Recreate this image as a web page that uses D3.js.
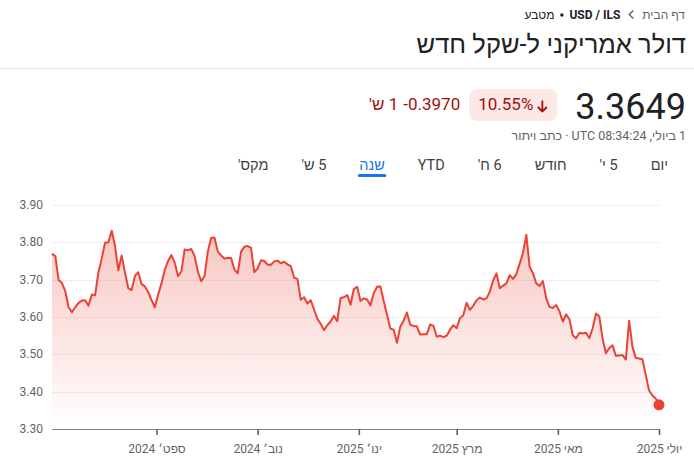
<!DOCTYPE html>
<html><head><meta charset="utf-8">
<script src="https://cdn.jsdelivr.net/npm/d3@7"></script>
<style>
html,body{margin:0;padding:0;background:#fff;}
svg{display:block;font-family:Roboto, Arial, "Liberation Sans", sans-serif;}
</style></head><body>
<svg id="chart" width="694" height="470"></svg>
<script>
// ---------------- data ----------------
const startDate = "2024-06-30";   // first sample, one sample every 2 days
const stepDays = 2;
const rates = [
3.769,3.763,3.699,3.691,3.669,3.626,3.613,3.626,3.638,3.644,
3.645,3.630,3.660,3.658,3.720,3.757,3.799,3.800,3.831,3.790,
3.725,3.765,3.719,3.677,3.672,3.710,3.720,3.688,3.682,3.667,
3.645,3.626,3.660,3.690,3.726,3.750,3.766,3.745,3.709,3.722,
3.781,3.779,3.782,3.763,3.720,3.696,3.710,3.776,3.812,3.812,
3.775,3.765,3.757,3.758,3.758,3.727,3.717,3.775,3.788,3.790,
3.785,3.720,3.730,3.752,3.750,3.740,3.740,3.749,3.751,3.744,
3.748,3.741,3.736,3.705,3.702,3.646,3.653,3.636,3.645,3.620,
3.595,3.582,3.565,3.578,3.588,3.603,3.589,3.651,3.653,3.659,
3.633,3.675,3.681,3.643,3.650,3.647,3.631,3.664,3.681,3.682,
3.643,3.606,3.569,3.566,3.531,3.574,3.590,3.612,3.579,3.576,
3.575,3.553,3.554,3.554,3.580,3.576,3.547,3.550,3.546,3.550,
3.566,3.578,3.570,3.597,3.605,3.638,3.619,3.630,3.645,3.652,
3.647,3.650,3.668,3.698,3.717,3.677,3.684,3.690,3.712,3.702,
3.715,3.743,3.772,3.820,3.735,3.717,3.690,3.683,3.696,3.650,
3.627,3.624,3.632,3.615,3.588,3.607,3.594,3.551,3.543,3.558,
3.556,3.558,3.543,3.570,3.609,3.602,3.542,3.503,3.517,3.524,
3.496,3.497,3.498,3.486,3.590,3.520,3.490,3.489,3.487,3.445,
3.403,3.390,3.382,3.3649
];
const yTicks = [3.30,3.40,3.50,3.60,3.70,3.80,3.90];
const xTickDates = ["2024-09-01","2024-11-01","2025-01-01","2025-03-01","2025-05-01","2025-07-01"];
const xTickLabels = ["ספט׳ 2024","נוב׳ 2024","ינו׳ 2025","מרץ 2025","מאי 2025","יולי 2025"];
const tabs = ["יום","5 י'","חודש","6 ח'","YTD","שנה","5 ש'","מקס'"];
const activeTab = "שנה";
const breadcrumb = ["דף הבית","USD / ILS","מטבע"];
const title = "דולר אמריקני ל-שקל חדש";
const price = "3.3649";
const changePct = "10.55%";
const changeAbs = "-0.3970";
const changePeriod = "1 ש'";
const subtitle = "1 ביולי, UTC 08:34:24 · כתב ויתור";

// ---------------- drawing ----------------
const svg = d3.select("#chart");
const parse = d3.utcParse("%Y-%m-%d");
const t0 = parse(startDate);
const series = rates.map((v,i)=>({date:d3.utcDay.offset(t0, i*stepDays), value:v}));

const plot = {left:52, right:659, top:205, bottom:429};
const x = d3.scaleUtc().domain(d3.extent(series, d=>d.date)).range([plot.left, plot.right]);
const y = d3.scaleLinear().domain([3.30,3.90]).range([plot.bottom, plot.top]);

// lays out items from right to left; each item is its own text element
function rowRTL(items, right, yPos){
  let r = right;
  items.forEach(it=>{
    const t = svg.append("text").attr("y", yPos)
      .style("font-size", it.size+"px").style("fill", it.color)
      .style("font-weight", it.weight||400)
      .text(it.text);
    if (it.rtl) t.attr("direction","rtl").attr("x", r).attr("text-anchor","start");
    else t.attr("x", r).attr("text-anchor","end");
    const w = t.node().getComputedTextLength();
    it.x0 = r - w; it.x1 = r;
    r = r - w - (it.gap||0);
  });
  return items;
}
const bc = rowRTL([
  {text:breadcrumb[0], size:12, color:"#5f6368", gap:22, rtl:true},
  {text:breadcrumb[1], size:12, color:"#202124", weight:700, gap:15},
  {text:breadcrumb[2], size:12, color:"#202124", rtl:true}
], 685, 19);
const cx = (bc[0].x0 + bc[1].x1)/2;
svg.append("path").attr("d",`M${cx+2},10.5 L${cx-2},14.5 L${cx+2},18.5`)
  .attr("fill","none").attr("stroke","#5f6368").attr("stroke-width",1.4);
svg.append("circle").attr("cx",(bc[1].x0+bc[2].x1)/2).attr("cy",15).attr("r",1.7).attr("fill","#202124");

svg.append("text").attr("x",686).attr("y",53).attr("text-anchor","start").attr("direction","rtl")
  .style("font-size","25.5px").style("fill","#202124").text(title);
svg.append("line").attr("x1",0).attr("x2",694).attr("y1",68.5).attr("y2",68.5)
  .attr("stroke","#e8eaed").attr("stroke-width",1);

// price row
const pr = svg.append("text").attr("x",686).attr("y",119).attr("text-anchor","end")
  .style("font-size","36px").style("fill","#202124").text(price);
const prW = pr.node().getComputedTextLength();
const badgeRight = 686 - prW - 18;
const badgeG = svg.append("g");
const bt = badgeG.append("text").attr("x", badgeRight-24).attr("y",110).attr("text-anchor","end")
  .style("font-size","17px").style("fill","#a50e0e").text(changePct);
const btW = bt.node().getComputedTextLength();
const badgeLeft = badgeRight - 24 - btW - 9;
badgeG.insert("rect","text").attr("x",badgeLeft).attr("y",89).attr("width",badgeRight-badgeLeft).attr("height",32)
  .attr("rx",8).attr("fill","#fce8e6");
const ax = badgeRight-15;
badgeG.append("path").attr("d",`M${ax},100.5 V111.5 M${ax-4.5},107 L${ax},111.5 L${ax+4.5},107`)
  .attr("fill","none").attr("stroke","#a50e0e").attr("stroke-width",1.8);
rowRTL([
  {text:changeAbs, size:17, color:"#a50e0e", gap:5},
  {text:changePeriod, size:17, color:"#a50e0e", rtl:true}
], badgeLeft-9, 110);

svg.append("text").attr("x",686).attr("y",140).attr("text-anchor","start").attr("direction","rtl")
  .style("font-size","12.5px").style("fill","#5f6368").text(subtitle);

// tabs
const tabItems = rowRTL(tabs.map(t=>({text:t, size:14.5, rtl:true,
  color: t===activeTab?"#1a73e8":"#3c4043", gap:33, weight: t===activeTab?500:400})), 668, 170);
const at = tabItems.find(d=>d.text===activeTab);
svg.append("line").attr("x1",at.x0).attr("x2",at.x1).attr("y1",175.5).attr("y2",175.5)
  .attr("stroke","#1a73e8").attr("stroke-width",3).attr("stroke-linecap","round");

// grid
svg.append("g").selectAll("line").data(yTicks.slice(1)).join("line")
  .attr("x1",plot.left).attr("x2",plot.right)
  .attr("y1",d=>Math.round(y(d))+0.5).attr("y2",d=>Math.round(y(d))+0.5)
  .attr("stroke","#eeeeee").attr("stroke-width",1);

// y labels
svg.append("g").selectAll("text").data(yTicks).join("text")
  .attr("x",43).attr("y",d=>y(d)+4).attr("text-anchor","end")
  .style("font-size","12px").style("fill","#5f6368")
  .text(d=>d.toFixed(2));

// area gradient
const defs = svg.append("defs");
const grad = defs.append("linearGradient").attr("id","fillGrad")
  .attr("gradientUnits","userSpaceOnUse").attr("x1",0).attr("x2",0)
  .attr("y1",y(d3.max(rates))).attr("y2",plot.bottom);
grad.append("stop").attr("offset","0").attr("stop-color","#ea4335").attr("stop-opacity",0.30);
grad.append("stop").attr("offset","1").attr("stop-color","#ea4335").attr("stop-opacity",0);

const area = d3.area().x(d=>x(d.date)).y0(plot.bottom).y1(d=>y(d.value));
const line = d3.line().x(d=>x(d.date)).y(d=>y(d.value));
svg.append("path").datum(series).attr("d",area).attr("fill","url(#fillGrad)");
svg.append("path").datum(series).attr("d",line).attr("fill","none")
  .attr("stroke","#ea4335").attr("stroke-width",2).attr("stroke-linejoin","round");

// x axis
const xAxis = d3.axisBottom(x)
  .tickValues(xTickDates.map(parse))
  .tickFormat((d,i)=>xTickLabels[i])
  .tickSize(6).tickPadding(9);
const gx = svg.append("g").attr("transform",`translate(0,${plot.bottom})`).call(xAxis);
gx.select(".domain").attr("stroke","#80868b").attr("d",`M${plot.left},0.5H${plot.right}`);
gx.selectAll(".tick line").attr("stroke","#5f6368").attr("stroke-width",1.6);
gx.selectAll(".tick text").attr("direction","rtl").style("font-size","12px").style("fill","#5f6368")
  .style("font-family","Roboto, Arial, 'Liberation Sans', sans-serif");

// last point
const last = series[series.length-1];
svg.append("circle").attr("cx",x(last.date)).attr("cy",y(last.value)).attr("r",5.5).attr("fill","#ea4335");
</script>
</body></html>
